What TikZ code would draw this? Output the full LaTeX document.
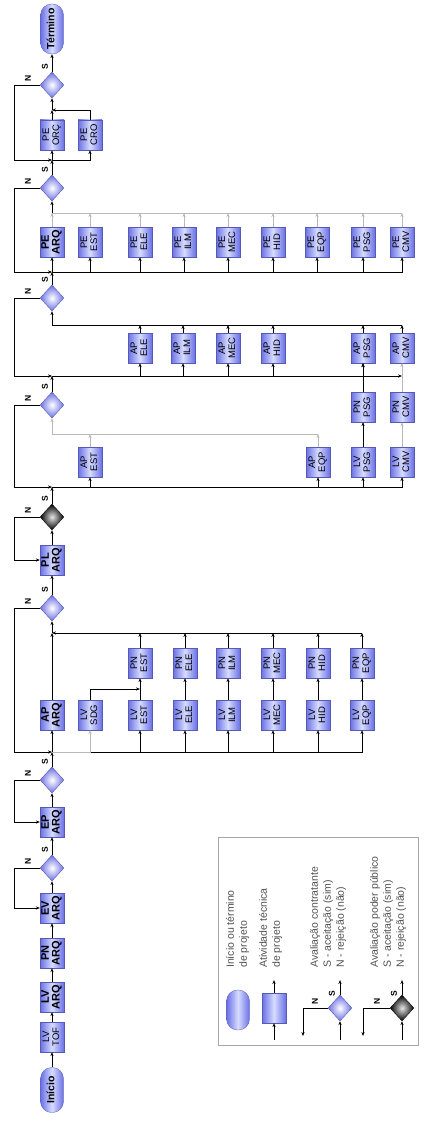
\documentclass[tikz,border=0pt]{standalone}
\usepackage{fontspec}
\setmainfont{Liberation Sans}
\usepackage{graphicx}
\usepackage{tikz}
\usetikzlibrary{shapes.geometric, arrows.meta, calc}
\definecolor{boxblue}{HTML}{6A70E4}
\definecolor{boxlight}{HTML}{D6DCFF}
\definecolor{legink}{HTML}{505050}
\newcommand{\vtx}[1]{\rotatebox{90}{\begin{tabular}{@{}c@{}}#1\end{tabular}}}
\tikzset{
  actbox/.style ={rectangle, draw=boxblue!80!black, line width=0.3pt, left color=boxblue, right color=boxblue, middle color=boxlight,
                  minimum width=24pt, minimum height=30pt, inner sep=0pt, text=black, font=\fontsize{9.5}{10}\selectfont},
  actmain/.style={actbox, font=\fontsize{11}{10.5}\selectfont\bfseries},
  termbox/.style={rectangle, rounded corners=11pt, draw=boxblue!80!black, line width=0.3pt, left color=boxblue, right color=boxblue,
                  middle color=boxlight, minimum width=23pt, minimum height=45pt, inner sep=0pt, font=\fontsize{10.5}{10.5}\selectfont\bfseries},
  evalc/.style  ={diamond, draw=boxblue!70!black, line width=0.3pt, inner color=white, outer color=boxblue, minimum width=24pt, minimum height=26pt, inner sep=0pt},
  evalp/.style  ={evalc, draw=black, inner color=gray!20, outer color=black},
  flow/.style   ={-{Stealth[length=4pt,width=3.2pt]}, line width=0.7pt, black},
  flowg/.style  ={flow, gray!55},
  wire/.style   ={line width=0.7pt, black},
  wireg/.style  ={wire, gray!55},
  yn/.style     ={font=\fontsize{8.5}{8.5}\selectfont\bfseries, rotate=90, inner sep=0.5pt},
  legtxt/.style ={font=\fontsize{10.5}{13}\selectfont, text=legink, align=left, rotate=90, anchor=north west, inner sep=0pt},
  legframe/.style={rectangle, draw=gray!70, line width=0.6pt, minimum width=200pt, minimum height=208pt},
}

\begin{document}
\begin{tikzpicture}[x=1pt, y=-1pt]
  \useasboundingbox (0,0) rectangle (436,1126);
  \coordinate (rail) at (14,0);
  \coordinate (j1) at (52,752); \coordinate (jt1) at (52,633);
  \coordinate (j2) at (52,487); \coordinate (jt2) at (52,434);
  \coordinate (j3) at (52,376); \coordinate (jt3) at (52,325);
  \coordinate (j4) at (52,272); \coordinate (jt4) at (52,213);
  \coordinate (j5) at (52,160); \coordinate (jt5) at (52,110);

  % levantamentos, programa e viabilidade
  \node[termbox] (inicio) at (52,1090) {\vtx{Início}};
  \node[actbox]  (lvtof)  at (52,1037) {\vtx{LV\\TOF}};
  \node[actmain] (lvarq)  at (52,997)  {\vtx{LV\\ARQ}};
  \node[actmain] (pnarq)  at (52,953)  {\vtx{PN\\ARQ}};
  \node[actmain] (evarq)  at (52,908)  {\vtx{EV\\ARQ}};
  \node[evalc]   (dA)     at (52,868)  {};
  \node[actmain] (eparq)  at (52,822)  {\vtx{EP\\ARQ}};
  \node[evalc]   (dB)     at (52,780)  {};
  \draw[flow] (inicio) -- (lvtof); \draw[flow] (lvtof) -- (lvarq); \draw[flow] (lvarq) -- (pnarq); \draw[flow] (pnarq) -- (evarq);
  \draw[flow] (evarq) -- (dA); \draw[flow] (dA) -- (eparq); \draw[flow] (eparq) -- (dB); \draw[flow] (dB) -- (j1);
  \draw[flow] (dA.west) -| (rail |- evarq.west) -- (evarq.west);
  \draw[flow] (dB.west) -| (rail |- eparq.west) -- (eparq.west);

  % anteprojeto de arquitetura + levantamentos e programas complementares
  \node[actmain] (aparq) at (52,715) {\vtx{AP\\ARQ}};
  \node[actbox]  (lvsdg) at (90,715) {\vtx{LV\\SDG}};
  \foreach \n/\x/\ab in {est/140/EST, ele/185/ELE, ilm/228/ILM, mec/273/MEC, hid/318/HID, eqp/362/EQP} {
    \node[actbox] (lv\n) at (\x,715) {\vtx{LV\\\ab}};
    \node[actbox] (pn\n) at (\x,663) {\vtx{PN\\\ab}};
    \draw[flow] (j1) -| (lv\n.south); \draw[flow] (lv\n) -- (pn\n);
    \draw[flow] (pn\n.north) -- (pn\n.north |- jt1);
  }
  \coordinate (m1) at ($(lvest.north)!0.5!(pnest.south)$);
  \draw[flowg] (j1) -| (lvsdg.south); \draw[flow] (lvsdg.north) |- (m1);
  \draw[flow] (j1) -- (aparq); \draw[flow] (aparq) -- (jt1); \draw[flow] (pneqp.north |- jt1) -- (jt1);
  \node[evalc] (dC) at (52,608) {};
  \draw[flow] (jt1) -- (dC);
  \draw[flow] (dC.west) -| (rail |- j1) -- (j1);

  % projeto legal
  \node[actmain] (plarq) at (52,560) {\vtx{PL\\ARQ}};
  \node[evalp]   (dD)    at (52,517) {};
  \draw[flow] (dC) -- (plarq); \draw[flow] (plarq) -- (dD); \draw[flow] (dD) -- (j2);
  \draw[flow] (dD.west) -| (rail |- plarq.west) -- (plarq.west);

  % anteprojetos complementares
  \node[actbox] (apest) at (90,462)  {\vtx{AP\\EST}};
  \node[actbox] (apeqp) at (318,462) {\vtx{AP\\EQP}};
  \node[actbox] (lvpsg) at (363,462) {\vtx{LV\\PSG}};
  \node[actbox] (lvcmv) at (402,462) {\vtx{LV\\CMV}};
  \node[actbox] (pnpsg) at (363,407) {\vtx{PN\\PSG}};
  \node[actbox] (pncmv) at (402,407) {\vtx{PN\\CMV}};
  \node[evalc]  (dE)    at (52,405)  {};
  \foreach \n in {apest, apeqp, lvpsg, lvcmv} \draw[flow] (j2) -| (\n.south);
  \foreach \n in {apest, apeqp} \draw[flowg] (\n.north) -- (\n.north |- jt2);
  \draw[wireg] (apeqp.north |- jt2) -- (jt2); \draw[flowg] (jt2) -- (dE);
  \draw[flow] (lvpsg) -- (pnpsg); \draw[flowg] (lvcmv) -- (pncmv);
  \draw[flow] (dE) -- (j3);
  \draw[flow] (dE.west) -| (rail |- j2) -- (j2);

  \foreach \n/\x/\ab in {ele/140/ELE, ilm/183/ILM, mec/228/MEC, hid/273/HID, psg/363/PSG, cmv/402/CMV} {
    \node[actbox] (ap\n) at (\x,348) {\vtx{AP\\\ab}};
    \draw[flow] (ap\n.north) -- (ap\n.north |- jt3);
  }
  \foreach \n in {apele, apilm, apmec, aphid, appsg} \draw[flow] (j3) -| (\n.south);
  \draw[flow] (j3) -- (apcmv.south |- j3);
  \draw[flow] (pnpsg) -- (appsg); \draw[flowg] (pncmv) -- (apcmv);
  \draw[wire] (apcmv.north |- jt3) -- (jt3);
  \node[evalc] (dF) at (52,298) {};
  \draw[flow] (jt3) -- (dF); \draw[flow] (dF) -- (j4);
  \draw[flow] (dF.west) -| (rail |- j3) -- (j3);

  % projeto executivo
  \node[actmain] (pearq) at (52,242) {\vtx{PE\\ARQ}};
  \foreach \n/\x/\ab in {est/90/EST, ele/140/ELE, ilm/184/ILM, mec/228/MEC, hid/273/HID, eqp/317/EQP, psg/363/PSG, cmv/402/CMV} {
    \node[actbox] (pe\n) at (\x,242) {\vtx{PE\\\ab}};
    \draw[flow] (j4) -| (pe\n.south); \draw[flowg] (pe\n.north) -- (pe\n.north |- jt4);
  }
  \draw[flow] (j4) -- (pearq); \draw[flowg] (pearq) -- (jt4); \draw[wireg] (pecmv.north |- jt4) -- (jt4);
  \node[evalc] (dG) at (52,188) {};
  \draw[flow] (jt4) -- (dG); \draw[flow] (dG) -- (j5);
  \draw[flow] (dG.west) -| (rail |- j4) -- (j4);

  % orcamento e cronograma
  \node[actbox] (peorc) at (52,135) {\vtx{PE\\ORÇ}};
  \node[actbox] (pecro) at (90,135) {\vtx{PE\\CRO}};
  \draw[flow] (j5) -- (peorc); \draw[flow] (j5) -| (pecro.south);
  \draw[flow] (peorc) -- (jt5); \draw[flow] (pecro.north) |- (jt5);
  \node[evalc] (dH) at (52,85) {};
  \node[termbox, minimum height=50pt] (termino) at (52,29) {\vtx{Término}};
  \draw[flow] (jt5) -- (dH); \draw[flow] (dH) -- (termino);
  \draw[flow] (dH.west) -| (rail |- j5) -- (j5);

  % rotulos S / N
  \foreach \d/\y in {A/868, B/780, C/608, D/517, E/405, F/298, G/188, H/85} {
    \node[yn] (n\d) at (28,\y-7) {N};
    \node[yn] (s\d) at (45,\y-18) {S};
  }

  % legenda
  \node[legframe] (legend) at (318,941) {};
  \node[termbox, minimum height=40pt] (lgterm) at (238,1010) {};
  \node[actbox] (lgact) at (274,1008) {};
  \coordinate (lgai) at (274,1040); \coordinate (lgao) at (274,980);
  \draw[flow] (lgai) -- (lgact); \draw[flow] (lgact) -- (lgao);
  \node[evalc] (lgevc) at (340,1008) {};
  \coordinate (lgci) at (340,1040); \coordinate (lgco) at (340,980); \coordinate (lgcn) at (303,1036);
  \draw[flow] (lgci) -- (lgevc); \draw[flow] (lgevc) -- (lgco); \draw[flow] (lgevc.west) -| (lgcn);
  \node[evalp] (lgevp) at (402,1008) {};
  \coordinate (lgpi) at (402,1040); \coordinate (lgpo) at (402,980); \coordinate (lgpn) at (363,1036);
  \draw[flow] (lgpi) -- (lgevp); \draw[flow] (lgevp) -- (lgpo); \draw[flow] (lgevp.west) -| (lgpn);
  \node[yn] (lgcs) at (332,994) {S}; \node[yn] (lgcnl) at (315,1001) {N};
  \node[yn] (lgps) at (394,994) {S}; \node[yn] (lgpnl) at (377,1001) {N};
  \node[legtxt] (lgt1) at (226,968) {Início ou término\\de projeto};
  \node[legtxt] (lgt2) at (259,968) {Atividade técnica\\de projeto};
  \node[legtxt] (lgt3) at (310,968) {Avaliação contratante\\S - aceitação (sim)\\N - rejeição (não)};
  \node[legtxt] (lgt4) at (370,968) {Avaliação poder público\\S - aceitação (sim)\\N - rejeição (não)};
\end{tikzpicture}
\end{document}
